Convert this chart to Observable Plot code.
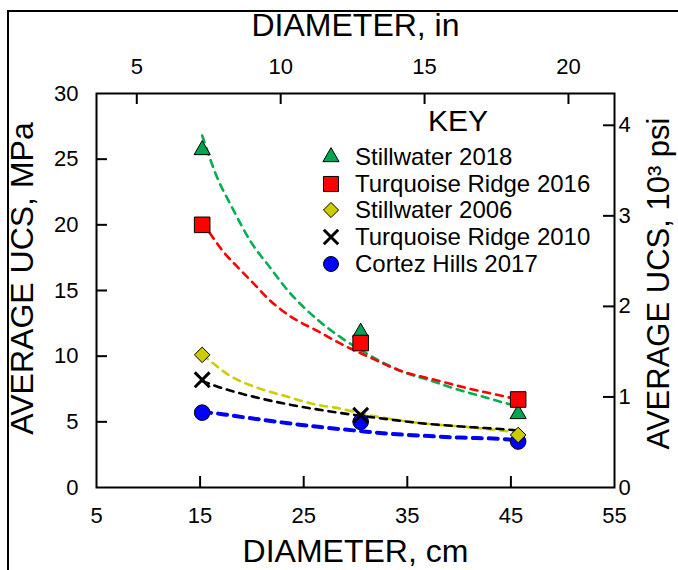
<!DOCTYPE html>
<html><head><meta charset="utf-8">
<script src="https://cdn.jsdelivr.net/npm/d3@7"></script>
<script src="https://cdn.jsdelivr.net/npm/@observablehq/plot@0.6"></script>
<style>
body{margin:0;background:#fff;}
#wrap{position:relative;width:678px;height:570px;overflow:hidden;font-family:"Liberation Sans",Arial,sans-serif;color:#000;}
#border{position:absolute;left:7px;top:10px;width:720px;height:620px;border-top:2px solid #000;border-left:2px solid #000;pointer-events:none;}
#chart{position:absolute;left:0;top:0;}
#key{position:absolute;left:408px;top:106px;width:100px;text-align:center;font-size:30px;line-height:30px;}
#legend{position:absolute;left:322px;top:144px;font-size:24px;}
#legend .row{display:flex;align-items:center;height:26.6px;white-space:nowrap;}
#legend svg{width:18px;height:18px;margin-right:15px;overflow:visible;}
</style></head>
<body><div id="wrap"><div id="chart"></div><div id="border"></div><div id="key">KEY</div><div id="legend"></div></div>
<script>
// ---- data ----
const diameterCm = [15.2, 30.5, 45.7];
const stillwater2018 = [25.7, 11.8, 5.6];
const turquoise2016 = [20.0, 11.0, 6.7];
const stillwater2006 = [10.1, null, 4.0];
const turquoise2010 = [8.2, 5.5, null];
const cortez2017 = [5.7, 5.0, 3.5];

// dashed trend curves
const greenCurveX = [15.2, 16.65, 18.1, 19.9, 21.8, 23.05, 26.6, 28.55, 31.4, 34.6, 37.2, 40.1, 42.4, 44.6, 45.7];
const greenCurveY = [26.8, 23.6, 21.3, 18.7, 16.7, 15.4, 12.6, 11.45, 10.05, 8.8, 8.15, 7.4, 6.9, 6.4, 6.2];
const redCurveX = [15.2, 16.0, 17.3, 18.6, 20.2, 21.8, 23.4, 26.6, 28.2, 31.4, 34.3, 37.9, 41.1, 44.0, 45.7];
const redCurveY = [20.2, 19.3, 17.9, 16.8, 15.5, 14.2, 13.2, 11.8, 11.1, 9.9, 8.9, 8.15, 7.5, 7.0, 6.7];
const yellowCurveX = [15.2, 15.7, 17.9, 20.5, 23.05, 26.6, 27.9, 31.4, 36.9, 40.1, 44.0, 45.7];
const yellowCurveY = [10.1, 9.8, 8.5, 7.6, 7.0, 6.25, 6.1, 5.5, 4.85, 4.65, 4.35, 4.2];
const blackCurveX = [15.2, 17.0, 20.2, 23.4, 27.9, 33.1, 36.9, 41.1, 44.0, 45.7];
const blackCurveY = [8.1, 7.6, 6.9, 6.35, 5.75, 5.2, 4.85, 4.6, 4.45, 4.35];
const blueCurveX = [15.2, 17.0, 19.2, 21.5, 26.6, 29.8, 33.1, 36.3, 40.1, 44.0, 45.7];
const blueCurveY = [5.75, 5.6, 5.35, 5.1, 4.6, 4.35, 4.1, 3.95, 3.8, 3.7, 3.6];

const seriesNames = ["Stillwater 2018", "Turquoise Ridge 2016", "Stillwater 2006", "Turquoise Ridge 2010", "Cortez Hills 2017"];

// ticks
const cmTicks = [5, 15, 25, 35, 45, 55];
const mpaTicks = [0, 5, 10, 15, 20, 25, 30];
const inchTicks = [5, 10, 15, 20];
const ksiTicks = [0, 1, 2, 3, 4];
const inchAxisDomain = [3.6, 21.6]; // top axis extent as drawn in the figure
const MPA_PER_KSI = 6.894757;

// ---- helpers ----
const xDomain = [5, 55];
const inToPos = i => xDomain[0] + (i - inchAxisDomain[0]) * (xDomain[1] - xDomain[0]) / (inchAxisDomain[1] - inchAxisDomain[0]);
const posToIn = p => inchAxisDomain[0] + (p - xDomain[0]) * (inchAxisDomain[1] - inchAxisDomain[0]) / (xDomain[1] - xDomain[0]);
const pts = ys => diameterCm.map((x, i) => ({x, y: ys[i]})).filter(d => d.y != null);
const curve = (xs, ys) => xs.map((x, i) => ({x, y: ys[i]}));

const W = 678, H = 570, mL = 96, mR = 64, mT = 93, mB = 83;
const innerW = W - mL - mR, innerH = H - mT - mB;
const TL = 11; // inward tick length

const styles = [
  {name: seriesNames[0], symbol: "triangle", fill: "#00a651", r: 6.0},
  {name: seriesNames[1], symbol: "square", fill: "#ff0000", r: 8.5},
  {name: seriesNames[2], symbol: "diamond2", fill: "#cccc00", r: 6.8},
  {name: seriesNames[3], symbol: "times", fill: "none", r: 6.6},
  {name: seriesNames[4], symbol: "circle", fill: "#0000ff", r: 7.5}
];

const dash = (data, color, w, da) => Plot.line(data, {x: "x", y: "y", stroke: color, strokeWidth: w, strokeDasharray: da, curve: "monotone-x"});
const title = (t, opts) => Plot.text([t], {text: d => d, fontSize: 32, lineAnchor: "middle", textAnchor: "middle", ...opts});

const chart = Plot.plot({
  width: W, height: H,
  marginLeft: mL, marginRight: mR, marginTop: mT, marginBottom: mB,
  style: {fontFamily: "'Liberation Sans', Arial, sans-serif", fontSize: "22px", color: "#000", background: "transparent"},
  x: {domain: xDomain},
  y: {domain: [0, 30]},
  marks: [
    // curves
    dash(curve(greenCurveX, greenCurveY), "#00b050", 2.6, "7,6"),
    dash(curve(redCurveX, redCurveY), "#ff0000", 2.6, "7,6"),
    dash(curve(yellowCurveX, yellowCurveY), "#cccc00", 2.6, "7,6"),
    dash(curve(blackCurveX, blackCurveY), "#000000", 2.6, "7,6"),
    dash(curve(blueCurveX, blueCurveY), "#0000ff", 4, "9,7"),
    // markers
    Plot.dot(pts(cortez2017), {x: "x", y: "y", symbol: "circle", r: 7.8, fill: "#0000ff", stroke: "#000", strokeWidth: 1}),
    Plot.dot(pts(stillwater2018), {x: "x", y: "y", symbol: "triangle", r: 6.0, fill: "#00a651", stroke: "#000", strokeWidth: 1}),
    Plot.dot(pts(turquoise2016), {x: "x", y: "y", symbol: "square", r: 8.8, fill: "#ff0000", stroke: "#000", strokeWidth: 1}),
    Plot.dot(pts(stillwater2006), {x: "x", y: "y", symbol: "diamond2", r: 7.0, fill: "#cccc00", stroke: "#000", strokeWidth: 1}),
    Plot.dot(pts(turquoise2010), {x: "x", y: "y", symbol: "times", r: 6.8, fill: "none", stroke: "#000", strokeWidth: 3}),
    // frame
    Plot.frame({stroke: "#000", strokeWidth: 2}),
    // bottom axis (cm)
    Plot.axisX(cmTicks, {anchor: "bottom", tickSize: 0, tickPadding: 20, label: null, fontSize: 22}),
    Plot.tickX(cmTicks.slice(1, -1), {x: d => d, stroke: "#000", strokeWidth: 2, insetTop: innerH - TL}),
    // top axis (in)
    Plot.axisX(inchTicks.map(inToPos), {anchor: "top", tickSize: 0, tickPadding: 20, label: null, fontSize: 22, tickFormat: d => Math.round(posToIn(d))}),
    Plot.tickX(inchTicks.map(inToPos), {x: d => d, stroke: "#000", strokeWidth: 2, insetBottom: innerH - TL}),
    // left axis (MPa)
    Plot.axisY(mpaTicks, {anchor: "left", tickSize: 0, tickPadding: 18, label: null, fontSize: 22}),
    Plot.tickY(mpaTicks.slice(1, -1), {y: d => d, stroke: "#000", strokeWidth: 2, insetRight: innerW - TL}),
    // right axis (ksi)
    Plot.axisY(ksiTicks.map(k => k * MPA_PER_KSI), {anchor: "right", tickSize: 0, tickPadding: 4, label: null, fontSize: 22, tickFormat: d => Math.round(d / MPA_PER_KSI)}),
    Plot.tickY(ksiTicks.slice(1).map(k => k * MPA_PER_KSI), {y: d => d, stroke: "#000", strokeWidth: 2, insetLeft: innerW - TL}),
    // axis titles
    title("DIAMETER, cm", {frameAnchor: "bottom", dy: 64}),
    title("DIAMETER, in", {frameAnchor: "top", dy: -68}),
    title("AVERAGE UCS, MPa", {frameAnchor: "left", dx: -74, dy: -12, rotate: -90}),
    title("AVERAGE UCS, 10³ psi", {frameAnchor: "right", dx: 45, dy: -7, rotate: -90, fontSize: 31})
  ]
});
document.getElementById("chart").appendChild(chart);

// legend
const symMap = {triangle: d3.symbolTriangle, square: d3.symbolSquare, diamond2: d3.symbolDiamond2, times: d3.symbolTimes, circle: d3.symbolCircle};
const leg = d3.select("#legend");
styles.forEach(s => {
  const row = leg.append("div").attr("class", "row");
  const svg = row.append("svg").attr("viewBox", "-9 -9 18 18");
  svg.append("path")
    .attr("d", d3.symbol(symMap[s.symbol], Math.PI * s.r * s.r)())
    .attr("fill", s.fill)
    .attr("stroke", "#000")
    .attr("stroke-width", s.symbol === "times" ? 3 : 1);
  row.append("span").text(s.name);
});
</script>
</body></html>
